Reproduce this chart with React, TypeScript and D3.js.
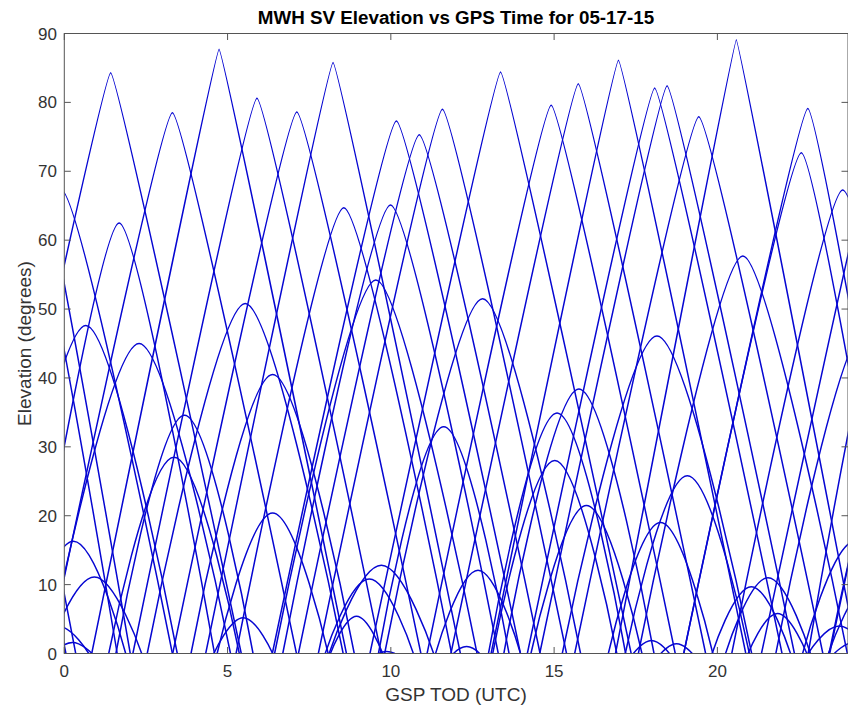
import React from 'react';
import * as d3 from 'd3';

// Satellite passes: rise time, peak time, peak elevation, set time (hours, degrees)
const peakTime = [
  1.42, 3.31, 4.74, 5.90, 7.12, 8.23, 10.17, 10.87, 11.58, 13.36, 14.91, 15.74, 16.97, 18.08, 18.46, 19.43, 20.58,
  22.77, 22.57, 23.84, -0.09, -1.16, -1.36, -3.35, 25.35, 27.24,
  1.68, 0.66, 2.29, 5.54, 8.56, 9.99, 9.54, 12.81, 18.15, 20.78, -3.15, 25.61, 24.59, 26.22,
  3.68, 3.36, 6.38, 6.38, 11.62, 15.76, 15.09, 15.02, 15.99, 19.08, 18.26,
  0.28, 24.21, 0.92, 24.85, 5.48, 9.71, 9.34, 8.95, 12.67, 12.32, 9.87, 21.55, 21.04, 21.84, 17.98, 18.75,
  -0.2, 23.73, 0.25, 24.18,
];
const peakElev = [
  84.3, 78.5, 87.7, 80.6, 78.6, 85.8, 77.3, 75.3, 79.0, 84.4, 79.6, 82.7, 86.1, 82.1, 82.4, 77.9, 89.1,
  79.1, 72.7, 67.3, 67.3, 79.1, 72.7, 89.1, 84.3, 78.5,
  62.5, 47.6, 45.0, 50.8, 64.7, 65.1, 54.2, 51.5, 46.1, 57.7, 57.7, 62.5, 47.6, 45.0,
  34.6, 28.5, 40.5, 20.4, 32.9, 38.4, 34.9, 28.0, 21.5, 25.8, 19.0,
  16.3, 16.3, 11.1, 11.1, 5.2, 12.8, 10.8, 5.4, 12.1, 1.0, 0.3, 11.0, 9.7, 5.8, 1.9, 1.4,
  4.0, 4.0, 1.6, 1.6,
];
const riseTime = [
  -2.58, -0.49, 0.84, 2.10, 3.32, 4.33, 6.37, 7.17, 7.78, 9.36, 11.11, 11.84, 13.07, 14.18, 14.56, 15.63, 16.88,
  18.97, 18.97, 20.44, -3.49, -4.96, -4.96, -7.05, 21.35, 23.44,
  -1.15, -2.14, -0.51, 2.54, 5.26, 6.69, 6.44, 9.81, 15.25, 17.58, -6.35, 22.78, 21.79, 23.42,
  1.58, 1.36, 3.88, 4.68, 9.62, 13.46, 12.99, 13.12, 14.29, 17.18, 16.66,
  -1.32, 22.61, -0.53, 23.4, 4.58, 8.11, 7.99, 8.15, 11.37, 11.92, 9.62, 20.25, 19.84, 20.94, 17.43, 18.27,
  -1.15, 22.78, -0.35, 23.58,
];
const setTime = [
  5.42, 7.11, 8.64, 9.70, 10.92, 12.13, 13.97, 14.57, 15.38, 17.36, 18.71, 19.64, 20.87, 21.98, 22.36, 23.23, 24.28,
  25.95, 25.55, 27.24, 3.31, 2.02, 1.62, 0.35, 29.35, 31.04,
  4.6, 3.46, 5.09, 8.54, 11.86, 13.29, 12.64, 15.81, 21.05, 23.98, 0.05, 28.53, 27.39, 29.02,
  5.78, 5.36, 8.88, 8.08, 13.62, 18.06, 17.19, 16.92, 17.69, 20.98, 19.86,
  1.88, 25.81, 2.37, 26.3, 6.38, 11.31, 10.69, 9.75, 13.97, 12.72, 10.12, 22.85, 22.24, 22.74, 18.53, 19.23,
  0.75, 24.68, 0.85, 24.78,
];

const xTicks = [0, 5, 10, 15, 20];
const yTicks = [0, 10, 20, 30, 40, 50, 60, 70, 80, 90];
const titleText = 'MWH SV Elevation vs GPS Time for 05-17-15';
const xLabelText = 'GSP TOD (UTC)';
const yLabelText = 'Elevation (degrees)';

const FONT = '"Liberation Sans", Arial, Helvetica, sans-serif';

export default function App() {
  const W = 848;
  const H = 710;
  const x = d3.scaleLinear().domain([0, 24]).range([64.3, 848]);
  const y = d3.scaleLinear().domain([0, 90]).range([653.5, 33.5]);
  // arc roundness: low passes are domes, high passes are nearly triangular
  const tension = d3
    .scaleLinear()
    .domain([0, 30, 50, 65, 80, 90])
    .range([-0.4, -0.2, 0.1, 0.45, 0.75, 0.95])
    .clamp(true);

  const [x0, x1] = x.range();
  const [yb, yt] = y.range();
  const tick = 6.5;
  const axisColor = '#555555';
  const textColor = '#333333';

  const paths = peakTime.map((pt, i) => {
    const pts: [number, number][] = [
      [riseTime[i], 0],
      [pt, peakElev[i]],
      [setTime[i], 0],
    ];
    const line = d3
      .line<[number, number]>()
      .x((d) => x(d[0]))
      .y((d) => y(d[1]))
      .curve(d3.curveCardinal.tension(tension(peakElev[i])));
    return line(pts) || '';
  });

  return (
    <svg
      width={W}
      height={H}
      style={{ position: 'absolute', left: 0, top: 0, background: '#fff' }}
      fontFamily={FONT}
    >
      <defs>
        <clipPath id="plotClip">
          <rect x={x0} y={yt} width={x1 - x0} height={yb - yt} />
        </clipPath>
      </defs>
      <rect x={0} y={0} width={W} height={H} fill="#fff" />
      <g clipPath="url(#plotClip)">
        {paths.map((p, i) => (
          <path key={i} d={p} fill="none" stroke="#0606d2" strokeWidth={1.5} />
        ))}
      </g>
      {/* box */}
      <rect x={x0} y={yt} width={x1 - x0} height={yb - yt} fill="none" stroke={axisColor} strokeWidth={1} />
      {/* x ticks */}
      {xTicks.map((t) => (
        <g key={'xt' + t}>
          <line x1={x(t)} x2={x(t)} y1={yb} y2={yb - tick} stroke={axisColor} />
          <line x1={x(t)} x2={x(t)} y1={yt} y2={yt + tick} stroke={axisColor} />
          <text x={x(t)} y={677} textAnchor="middle" fontSize={17} fill={textColor}>
            {t}
          </text>
        </g>
      ))}
      {/* y ticks */}
      {yTicks.map((t) => (
        <g key={'yt' + t}>
          <line x1={x0} x2={x0 + tick} y1={y(t)} y2={y(t)} stroke={axisColor} />
          <line x1={x1} x2={x1 - tick} y1={y(t)} y2={y(t)} stroke={axisColor} />
          <text x={57} y={y(t) + 6} textAnchor="end" fontSize={17} fill={textColor}>
            {t}
          </text>
        </g>
      ))}
      <text x={456} y={24} textAnchor="middle" fontSize={18.8} fontWeight="bold" fill="#000">
        {titleText}
      </text>
      <text x={456} y={701} textAnchor="middle" fontSize={19} fill={textColor}>
        {xLabelText}
      </text>
      <text
        transform={`translate(31, ${(yb + yt) / 2}) rotate(-90)`}
        textAnchor="middle"
        fontSize={19}
        fill={textColor}
      >
        {yLabelText}
      </text>
    </svg>
  );
}
